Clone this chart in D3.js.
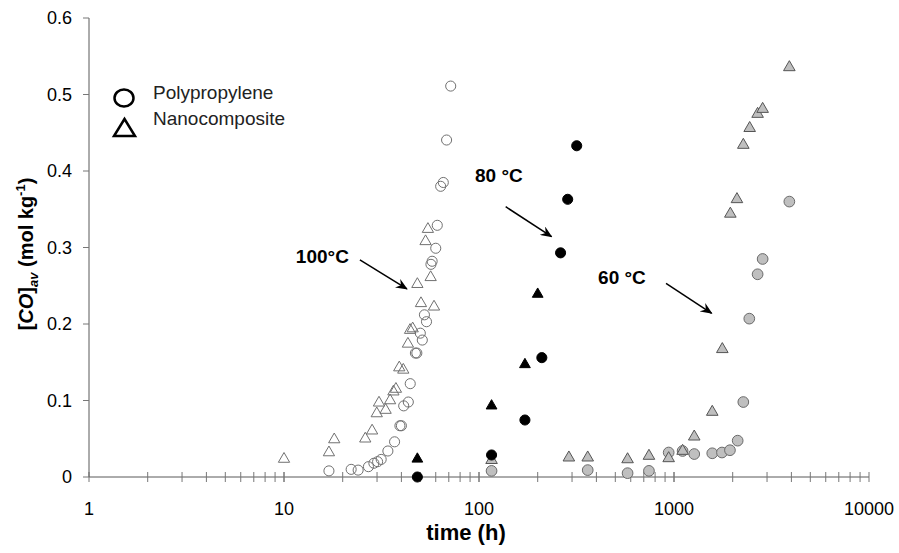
<!DOCTYPE html>
<html>
<head>
<meta charset="utf-8">
<title>[CO]av vs time</title>
<script src="https://d3js.org/d3.v7.min.js"></script>
<style>
  body { margin: 0; background: #fff; }
  svg text { font-family: "Liberation Sans", Arial, sans-serif; }
</style>
</head>
<body>
<svg width="899" height="553"></svg>
<script>
// time (h) and [CO]av (mol/kg)
const pp100T = [17.0, 22.1, 24.0, 27.1, 28.9, 30.2, 31.5, 34.1, 36.9, 39.3, 40.0, 41.1, 43.4, 44.4, 47.2, 48.0, 50.0, 51.2, 52.5, 53.8, 56.7, 57.5, 60.0, 61.1, 63.6, 65.6, 68.2, 71.6];
const pp100Y = [0.008, 0.010, 0.009, 0.0135, 0.018, 0.020, 0.023, 0.034, 0.046, 0.067, 0.067, 0.093, 0.098, 0.122, 0.162, 0.162, 0.188, 0.179, 0.212, 0.203, 0.278, 0.282, 0.299, 0.329, 0.380, 0.385, 0.4405, 0.511];

const nc100T = [10.0, 17.0, 18.1, 26.1, 28.3, 29.9, 30.7, 33.2, 35.0, 36.4, 37.5, 39.0, 40.9, 43.2, 44.3, 45.7, 48.3, 50.4, 53.2, 54.7, 56.5, 58.8];
const nc100Y = [0.0235, 0.032, 0.049, 0.050, 0.0605, 0.083, 0.097, 0.0875, 0.100, 0.1115, 0.115, 0.143, 0.140, 0.174, 0.192, 0.194, 0.252, 0.227, 0.308, 0.324, 0.261, 0.2225];

const pp80T = [48.3, 116, 172, 210, 262, 285, 317];
const pp80Y = [0.000, 0.0288, 0.0745, 0.156, 0.293, 0.363, 0.433];

const nc80T = [48.3, 116, 172, 200];
const nc80Y = [0.0235, 0.093, 0.147, 0.239];

const pp60T = [116, 361, 578, 744, 939, 1107, 1270, 1571, 1762, 1936, 2121, 2267, 2433, 2684, 2848, 3904];
const pp60Y = [0.008, 0.009, 0.005, 0.008, 0.032, 0.034, 0.030, 0.031, 0.032, 0.035, 0.0475, 0.098, 0.207, 0.265, 0.285, 0.360];

const nc60T = [116, 289, 361, 578, 744, 939, 1107, 1270, 1571, 1769, 1945, 2103, 2267, 2444, 2684, 2848, 3904];
const nc60Y = [0.022, 0.0253, 0.0253, 0.023, 0.0275, 0.0244, 0.034, 0.0527, 0.085, 0.167, 0.344, 0.363, 0.434, 0.456, 0.4745, 0.481, 0.5355];

const xTicks = [1, 10, 100, 1000, 10000];
const yTicks = [0, 0.1, 0.2, 0.3, 0.4, 0.5, 0.6];

// annotation labels + arrows, in data units
const notes = [
    { label: "100°C", tx: 11.5, ty: 0.2797, x1: 24.5, y1: 0.2837, x2: 42.7, y2: 0.2458 },
    { label: "80 °C", tx: 95.4, ty: 0.3856, x1: 137, y1: 0.3533, x2: 235.6, y2: 0.3141 },
    { label: "60 °C", tx: 408, ty: 0.2523, x1: 910, y1: 0.2532, x2: 1560, y2: 0.214 }
];

const svg = d3.select("svg");

var x = d3.scaleLog().domain([1, 10000]).range([89, 869]);
var y = d3.scaleLinear().domain([0, 0.6]).range([477, 18]);

// axes
var xAxis = svg.append("g").attr("transform", "translate(0," + y(0) + ")");
xAxis.append("line")
    .attr("x1", x(1)).attr("x2", x(10000))
    .attr("stroke", "#595959").attr("stroke-width", 1);
var minor = [];
for (var dec = 1; dec < 10000; dec *= 10)
    for (var k = 1; k <= 10; k++) minor.push(dec * k);
xAxis.selectAll(".xt").data(minor).enter().append("line")
    .attr("x1", d => x(d)).attr("x2", d => x(d))
    .attr("y1", -5).attr("y2", 5)
    .attr("stroke", "#777").attr("stroke-width", 1);
xAxis.selectAll(".xl").data(xTicks).enter().append("text")
    .attr("x", d => x(d)).attr("y", 38)
    .attr("text-anchor", "middle")
    .attr("font-size", "18px").attr("fill", "#000")
    .text(d => d);

var yAxis = svg.append("g").attr("transform", "translate(" + x(1) + ",0)");
yAxis.append("line")
    .attr("y1", y(0)).attr("y2", y(0.6))
    .attr("stroke", "#595959").attr("stroke-width", 1);
yAxis.selectAll(".yt").data(yTicks).enter().append("line")
    .attr("x1", -6).attr("x2", 0)
    .attr("y1", d => y(d)).attr("y2", d => y(d))
    .attr("stroke", "#777");
yAxis.selectAll(".yl").data(yTicks).enter().append("text")
    .attr("x", -17).attr("y", d => y(d))
    .attr("dy", "0.35em")
    .attr("text-anchor", "end")
    .attr("font-size", "18px").attr("fill", "#000")
    .text(d3.format(".1~f"));

// axis titles
svg.append("text")
    .attr("x", 466).attr("y", 540)
    .attr("text-anchor", "middle")
    .attr("font-size", "22px").attr("font-weight", "bold")
    .text("time (h)");

var yt = svg.append("text")
    .attr("transform", "translate(33,254) rotate(-90)")
    .attr("text-anchor", "middle")
    .attr("font-size", "20px").attr("font-weight", "bold");
yt.append("tspan").text("[");
yt.append("tspan").attr("font-style", "italic").text("CO");
yt.append("tspan").text("]");
yt.append("tspan").attr("font-style", "italic").attr("font-size", "13px").attr("dy", 5).text("av");
yt.append("tspan").attr("dy", -5).text(" (mol kg");
yt.append("tspan").attr("font-size", "13px").attr("dy", -8).text("-1");
yt.append("tspan").attr("dy", 8).text(")");

// series
function drawSeries(ts, ys, shape, fill, stroke, size) {
    var pts = ts.map((t, i) => ({ t: t, v: ys[i] }));
    svg.append("g").selectAll("path").data(pts).enter().append("path")
        .attr("transform", d => "translate(" + x(d.t) + "," + y(d.v) + ")")
        .attr("d", d3.symbol().type(shape).size(size))
        .attr("fill", fill)
        .attr("stroke", stroke)
        .attr("stroke-width", 1);
}

drawSeries(pp60T, pp60Y, d3.symbolCircle, "#bfbfbf", "#6a6a6a", 90);
drawSeries(nc60T, nc60Y, d3.symbolTriangle, "#bfbfbf", "#555", 58);
drawSeries(nc80T, nc80Y, d3.symbolTriangle, "#000", "#000", 50);
drawSeries(pp80T, pp80Y, d3.symbolCircle, "#000", "#000", 80);
drawSeries(nc100T, nc100Y, d3.symbolTriangle, "none", "#707070", 55);
drawSeries(pp100T, pp100Y, d3.symbolCircle, "none", "#707070", 80);

// annotations
svg.append("defs").append("marker")
    .attr("id", "arr")
    .attr("viewBox", "0 0 12 10")
    .attr("refX", 11).attr("refY", 5)
    .attr("markerWidth", 12).attr("markerHeight", 10)
    .attr("markerUnits", "userSpaceOnUse")
    .attr("orient", "auto")
    .append("path")
    .attr("d", "M0,0 L12,5 L0,10 L4,5 Z")
    .attr("fill", "#000");

var ann = svg.append("g");
ann.selectAll("line").data(notes).enter().append("line")
    .attr("x1", d => x(d.x1)).attr("y1", d => y(d.y1))
    .attr("x2", d => x(d.x2)).attr("y2", d => y(d.y2))
    .attr("stroke", "#000").attr("stroke-width", 1.5)
    .attr("marker-end", "url(#arr)");
ann.selectAll("text").data(notes).enter().append("text")
    .attr("x", d => x(d.tx)).attr("y", d => y(d.ty))
    .attr("font-size", "19px").attr("font-weight", "bold")
    .text(d => d.label);

// legend
var leg = svg.append("g");
leg.append("ellipse")
    .attr("cx", 124).attr("cy", 98).attr("rx", 9.5).attr("ry", 8.5)
    .attr("fill", "none").attr("stroke", "#000").attr("stroke-width", 2.5);
leg.append("path")
    .attr("d", "M114,136 L135,136 L124.5,119 Z")
    .attr("fill", "none").attr("stroke", "#000").attr("stroke-width", 2.5);
leg.append("text").attr("x", 153).attr("y", 99)
    .attr("font-size", "19px").attr("fill", "#222").text("Polypropylene");
leg.append("text").attr("x", 153).attr("y", 125)
    .attr("font-size", "19px").attr("fill", "#222").text("Nanocomposite");
</script>
</body>
</html>
